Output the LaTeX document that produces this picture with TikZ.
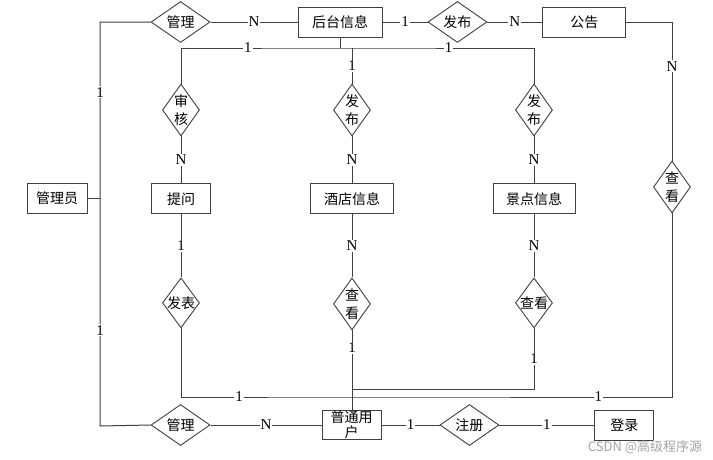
\documentclass[tikz,border=0pt]{standalone}
\usepackage{fontspec}
\setmainfont{Liberation Serif}
\newfontfamily\cjk{Noto Sans CJK SC}
\usetikzlibrary{positioning,shapes.geometric}

\begin{document}
\begin{tikzpicture}[x=1pt,y=-1pt,ent/.style={draw=black!75, line width=1pt, rectangle, minimum height=30pt, minimum width=59pt, inner sep=0pt, align=center, font=\cjk\fontsize{14}{15}\selectfont},rel/.style={draw=black!75, line width=0.9pt, diamond, minimum width=59pt, minimum height=30pt, inner sep=0pt, align=center, font=\cjk\fontsize{14}{18}\selectfont},relv/.style={rel, minimum width=37pt, minimum height=52pt, shape aspect=0.7},relh/.style={rel, minimum width=37pt, minimum height=50pt, shape aspect=0.74, inner sep=-1pt},lab/.style={fill=white, inner sep=1pt, font=\fontsize{15}{15}\selectfont},line/.style={draw=black!75, line width=1pt}]
  \useasboundingbox[fill=white] (0,0) rectangle (713,459);
  \node[ent, minimum width=84pt] (info) at (340,22) {后台信息};
  \node[rel, left=87pt of info] (manage1) {管理};
  \node[rel, right=45pt of info] (pub1) {发布};
  \node[ent, minimum width=83pt, right=55pt of pub1] (notice) {公告};
  \node[ent, minimum width=60pt] (admin) at (57,198) {管理员};
  \node[relv] (audit) at (181,110) {审\\核};
  \node[relv] (pub2) at (352,110) {发\\布};
  \node[relv] (pub3) at (534,110) {发\\布};
  \node[ent, below=47pt of audit] (ask) {提问};
  \node[ent, minimum width=83pt, below=47pt of pub2] (hotel) {酒店信息};
  \node[ent, minimum width=82pt, below=47pt of pub3] (scenic) {景点信息};
  \node[relh, below=63pt of ask] (post) {发表};
  \node[relv, below=63pt of hotel] (view1) {查\\看};
  \node[relh, below=63pt of scenic] (view2) {查看};
  \node[relv] (view3) at (672,187) {查\\看};
  \node[ent, minimum height=29pt] (user) at (351.5,425) {普通用\\户};
  \node[rel, left=111pt of user] (manage2) {管理};
  \node[rel, right=58pt of user] (reg) {注册};
  \node[ent, right=95pt of reg] (login) {登录};
  \node[text=black!35, font=\cjk\fontsize{13}{13}\selectfont] (mark) at (645,447) {CSDN @高级程序源};
  \coordinate (lt) at (100,22);
  \coordinate (lb) at (100,426);
  \coordinate (bus) at (340,48);
  \coordinate (j1) at (352,389);
  \coordinate (j2) at (352,397);
  \draw[line] (manage1.west) -- (lt) -- node[lab,pos=0.4]{1} (lt |- admin) -- node[lab,pos=0.58]{1} (lb) -- (manage2.west);
  \draw[line] (admin.east) -- (lt |- admin);
  \draw[line] (manage1.east) -- node[lab]{N} (info.west);
  \draw[line] (info.east) -- node[lab]{1} (pub1.west);
  \draw[line] (pub1.east) -- node[lab]{N} (notice.west);
  \draw[line] (notice.east) -| node[lab,pos=0.66]{N} (view3.north);
  \draw[line] (info.south) -- (bus);
  \draw[line] (audit.north) |- node[lab,pos=0.71]{1} (bus) -| node[lab,pos=0.28]{1} (pub3.north);
  \draw[line] (pub2.north |- bus) -- node[lab]{1} (pub2.north);
  \foreach \a/\b in {audit/ask, pub2/hotel, pub3/scenic}
    \draw[line] (\a.south) -- node[lab]{N} (\b.north);
  \draw[line] (ask.south) -- node[lab]{1} (post.north);
  \draw[line] (hotel.south) -- node[lab]{N} (view1.north);
  \draw[line] (scenic.south) -- node[lab]{N} (view2.north);
  \draw[line] (view1.south) -- node[lab,pos=0.22]{1} (view1.south |- user.north);
  \draw[line] (view2.south) |- node[lab,pos=0.25]{1} (j1);
  \draw[line] (post.south) |- node[lab,pos=0.67]{1} (j2) -| node[lab,pos=0.385]{1} (view3.south);
  \draw[line] (manage2.east) -- node[lab]{N} (user.west);
  \draw[line] (user.east) -- node[lab]{1} (reg.west);
  \draw[line] (reg.east) -- node[lab]{1} (login.west);
\end{tikzpicture}
\end{document}
